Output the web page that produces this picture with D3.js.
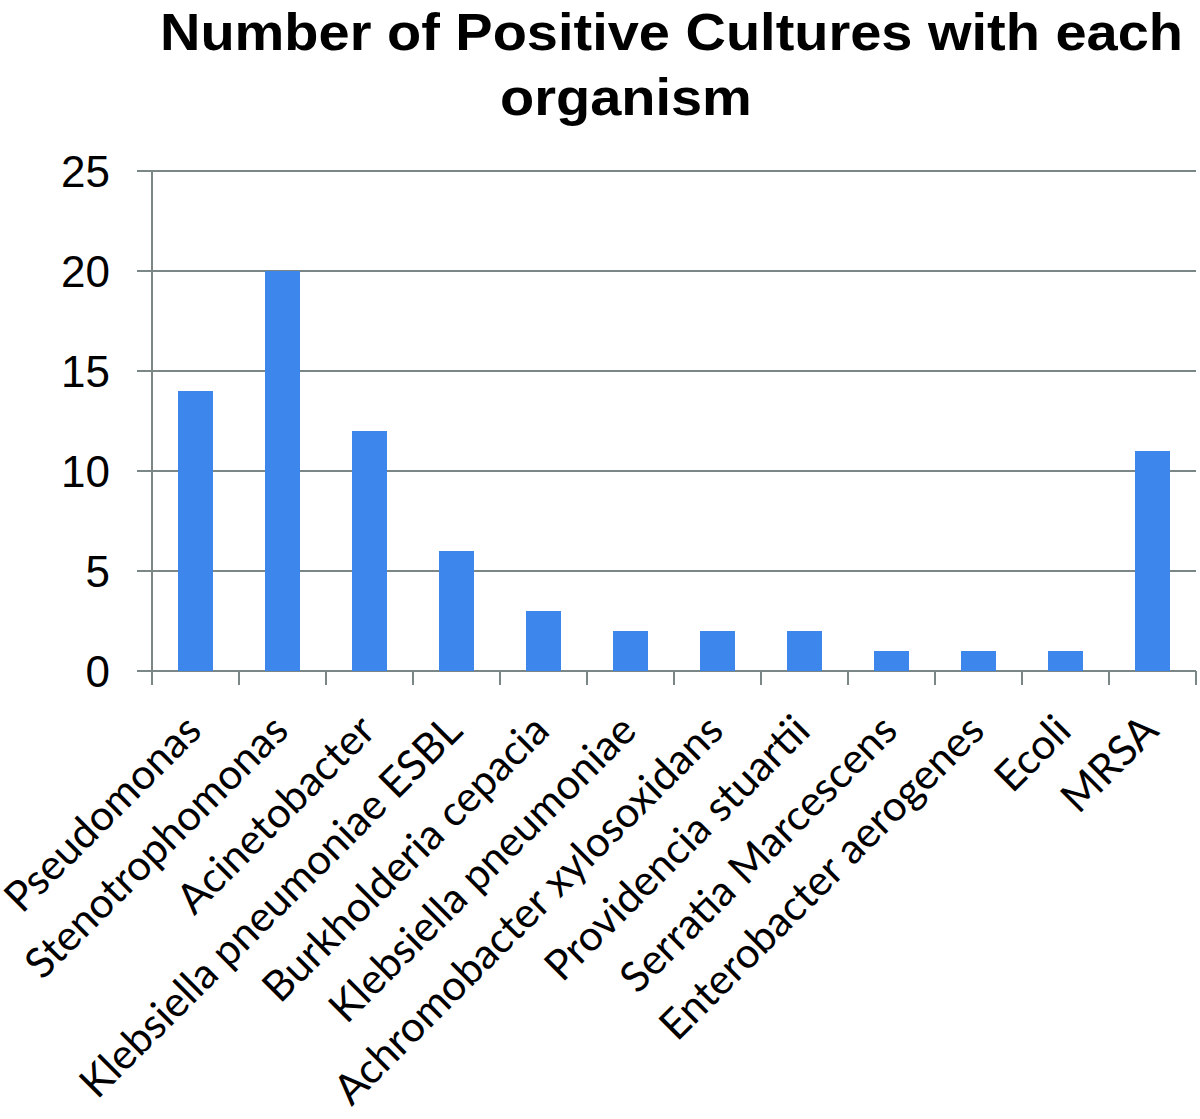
<!DOCTYPE html>
<html><head><meta charset="utf-8">
<script src="https://cdn.jsdelivr.net/npm/d3@7"></script>
<style>body{margin:0;background:#fff}</style>
</head><body>
<svg id="c" width="1200" height="1119"></svg>
<script>
const categories = ["Pseudomonas","Stenotrophomonas","Acinetobacter","Klebsiella pneumoniae ESBL","Burkholderia cepacia","Klebsiella pneumoniae","Achromobacter xylosoxidans","Providencia stuartii","Serratia Marcescens","Enterobacter aerogenes","Ecoli","MRSA"];
const values = [14,20,12,6,3,2,2,2,1,1,1,11];
const yTicks = [0,5,10,15,20,25];
const titleLines = ["Number of Positive Cultures with each","organism"];

(function(){
const svg = d3.select("#c");
const pL = 152, pR = 1196, pT = 171, pB = 671;
const xb = d3.scaleBand().domain(categories).range([pL, pR]);
const y = d3.scaleLinear().domain([0,25]).range([pB, pT]);
const gridColor = "#7b8787";

svg.append("g").selectAll("line").data(yTicks).join("line")
  .attr("x1", pL-15).attr("x2", pR)
  .attr("y1", d=>y(d)).attr("y2", d=>y(d))
  .attr("stroke", gridColor).attr("stroke-width", 2);
svg.append("line").attr("x1", pL).attr("x2", pL).attr("y1", pT).attr("y2", pB+14)
  .attr("stroke", gridColor).attr("stroke-width", 2);
const bounds = categories.map(c=>xb(c)).concat([pR]);
svg.append("g").selectAll("line").data(bounds).join("line")
  .attr("x1", d=>d).attr("x2", d=>d).attr("y1", pB).attr("y2", pB+14)
  .attr("stroke", gridColor).attr("stroke-width", 2);

svg.append("g").selectAll("rect").data(values).join("rect")
  .attr("x", (d,i)=>xb(categories[i]) + xb.bandwidth()/2 - 17.5)
  .attr("width", 35)
  .attr("y", d=>y(d)).attr("height", d=>y(0)-y(d))
  .attr("fill", "#3d87ec");

svg.append("g").selectAll("text").data(yTicks).join("text")
  .attr("x", 110).attr("y", d=>y(d)).attr("dy", "0.36em")
  .attr("text-anchor", "end")
  .attr("font-family", "Liberation Sans, Arial, sans-serif").attr("font-size", 44)
  .attr("fill", "#000").text(d=>d);

svg.append("g").selectAll("text").data(categories).join("text")
  .attr("transform", d=>`translate(${xb(d)+xb.bandwidth()/2+8},733) rotate(-45)`)
  .attr("text-anchor", "end")
  .attr("font-family", "Lato, sans-serif").attr("font-size", 42)
  .attr("fill", "#000").text(d=>d);

const t1 = svg.append("text").attr("x", 160).attr("y", 50)
  .attr("font-family", "Liberation Sans, Arial, sans-serif").attr("font-weight", "bold").attr("font-size", 52)
  .text(titleLines[0]);
const n1 = t1.node().getComputedTextLength();
const ratio = 1023 / n1;
t1.attr("textLength", 1023).attr("lengthAdjust", "spacingAndGlyphs");
const t2 = svg.append("text").attr("x", 500).attr("y", 115)
  .attr("font-family", "Liberation Sans, Arial, sans-serif").attr("font-weight", "bold").attr("font-size", 52)
  .text(titleLines[1]);
const n2 = t2.node().getComputedTextLength();
t2.attr("textLength", n2*ratio).attr("lengthAdjust", "spacingAndGlyphs");
})();
</script>
</body></html>
